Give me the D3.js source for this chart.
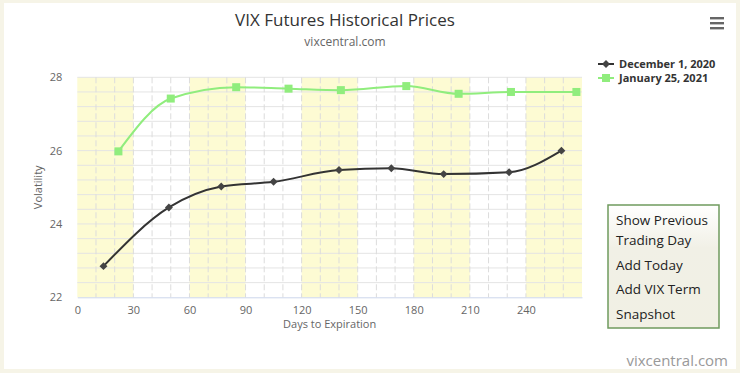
<!DOCTYPE html>
<html>
<head>
<meta charset="utf-8">
<script src="https://cdn.jsdelivr.net/npm/d3@7"></script>
<style>
  body { margin: 0; background: #f6f4e7; font-family: "Open Sans", "DejaVu Sans", sans-serif; }
  .card { position: absolute; left: 4px; top: 3px; width: 732px; height: 366px; background: #fff; }
  svg text { font-family: "Open Sans", "DejaVu Sans", sans-serif; }
</style>
</head>
<body>
<div class="card"></div>
<svg id="chart" width="740" height="373" style="position:absolute;left:0;top:0"></svg>
<script>
// chart data
var seriesNames = ["December 1, 2020", "January 25, 2021"];
var dec1Days = [14, 49, 77, 105, 140, 168, 196, 231, 259];
var dec1Vals = [22.85, 24.45, 25.02, 25.15, 25.47, 25.52, 25.36, 25.41, 26.0];
var jan25Days = [22, 50, 85, 113, 141, 176, 204, 232, 267];
var jan25Vals = [25.98, 27.42, 27.73, 27.69, 27.65, 27.76, 27.55, 27.6, 27.6];
var xTicks = [0, 30, 60, 90, 120, 150, 180, 210, 240];
var yTicks = [22, 24, 26, 28];
var buttonLabels = [["Show Previous", "Trading Day"], ["Add Today"], ["Add VIX Term"], ["Snapshot"]];

var svg = d3.select("#chart");
var margin = { top: 77.3, left: 77.3, right: 158, bottom: 75.7 };
var width = 740 - margin.left - margin.right;
var height = 373 - margin.top - margin.bottom;

var x = d3.scaleLinear().domain([0, 270]).range([0, width]);
var y = d3.scaleLinear().domain([22, 28]).range([height, 0]);

var g = svg.append("g")
  .attr("transform", `translate(${margin.left},${margin.top})`);

// alternating yellow bands every 30 days
var bands = d3.range(0, 270, 60);
g.selectAll("rect.band")
  .data(bands)
  .enter()
  .append("rect")
  .attr("class", "band")
  .attr("x", d => x(d))
  .attr("y", 0)
  .attr("width", d => x(Math.min(d + 30, 270)) - x(d))
  .attr("height", height)
  .attr("fill", "#fdfbd3");

// horizontal grid every 0.4
g.selectAll("line.hgrid")
  .data(d3.range(22.4, 28.01, 0.4))
  .enter()
  .append("line")
  .attr("x1", 0).attr("x2", width)
  .attr("y1", d => y(d)).attr("y2", d => y(d))
  .attr("stroke", "#e4e4e4")
  .attr("stroke-width", 1);

// vertical dashed grid every 10 days
g.selectAll("line.vgrid")
  .data(d3.range(10, 270, 10))
  .enter()
  .append("line")
  .attr("x1", d => x(d)).attr("x2", d => x(d))
  .attr("y1", 0).attr("y2", height)
  .attr("stroke", "#dcdcdc")
  .attr("stroke-dasharray", "6,3")
  .attr("stroke-width", 1);

// bottom axis
var xAxis = g.append("g")
  .attr("transform", `translate(0,${height})`)
  .call(d3.axisBottom(x).tickValues(xTicks).tickSize(0).tickPadding(9));
xAxis.select(".domain").attr("stroke", "#ccd6eb");
xAxis.selectAll("text").attr("fill", "#666").attr("font-size", "11px");

// left axis
var yAxis = g.append("g")
  .call(d3.axisLeft(y).tickValues(yTicks).tickFormat(d3.format("d")).tickSize(0).tickPadding(15));
yAxis.select(".domain").remove();
yAxis.selectAll("text").attr("fill", "#666").attr("font-size", "11px");

// axis titles
g.append("text")
  .attr("x", width / 2)
  .attr("y", height + 31)
  .attr("text-anchor", "middle")
  .attr("fill", "#666")
  .attr("font-size", "11px")
  .text("Days to Expiration");

g.append("text")
  .attr("transform", "rotate(-90)")
  .attr("x", -height / 2)
  .attr("y", -margin.left + 38)
  .attr("dy", "0.35em")
  .attr("text-anchor", "middle")
  .attr("fill", "#666")
  .attr("font-size", "11px")
  .text("Volatility");

var line = d3.line()
  .x(d => x(d[0]))
  .y(d => y(d[1]))
  .curve(d3.curveMonotoneX);

var dec1 = d3.zip(dec1Days, dec1Vals);
var jan25 = d3.zip(jan25Days, jan25Vals);

// green series
g.append("path")
  .datum(jan25)
  .attr("d", line)
  .attr("fill", "none")
  .attr("stroke", "#90ed7d")
  .attr("stroke-width", 2);

g.selectAll("rect.sq")
  .data(jan25)
  .enter()
  .append("rect")
  .attr("x", d => x(d[0]) - 4)
  .attr("y", d => y(d[1]) - 4)
  .attr("width", 8)
  .attr("height", 8)
  .attr("fill", "#90ed7d");

// dark series
g.append("path")
  .datum(dec1)
  .attr("d", line)
  .attr("fill", "none")
  .attr("stroke", "#333")
  .attr("stroke-width", 2);

var diamond = d3.symbol().type(d3.symbolDiamond2).size(40);
g.selectAll("path.dia")
  .data(dec1)
  .enter()
  .append("path")
  .attr("d", diamond)
  .attr("transform", d => `translate(${x(d[0])},${y(d[1])})`)
  .attr("fill", "#444");

// title and subtitle
svg.append("text")
  .attr("x", 345).attr("y", 26)
  .attr("text-anchor", "middle")
  .attr("fill", "#333")
  .attr("font-size", "17px")
  .text("VIX Futures Historical Prices");

svg.append("text")
  .attr("x", 345).attr("y", 46)
  .attr("text-anchor", "middle")
  .attr("fill", "#666")
  .attr("font-size", "12px")
  .text("vixcentral.com");

// menu icon
svg.selectAll("rect.menu")
  .data([0, 1, 2])
  .enter()
  .append("rect")
  .attr("x", 710).attr("y", d => 17 + d * 5)
  .attr("width", 14).attr("height", 2.4)
  .attr("fill", "#666");

// legend
var legend = svg.append("g").attr("transform", "translate(598,64)");
seriesNames.forEach(function(name, i) {
  var row = legend.append("g").attr("transform", `translate(0,${i * 14})`);
  var col = i === 0 ? "#333" : "#90ed7d";
  row.append("line")
    .attr("x1", 0).attr("x2", 16)
    .attr("stroke", col).attr("stroke-width", 2);
  if (i === 0) {
    row.append("path").attr("d", diamond).attr("transform", "translate(8,0)").attr("fill", "#444");
  } else {
    row.append("rect").attr("x", 4).attr("y", -4).attr("width", 8).attr("height", 8).attr("fill", "#90ed7d");
  }
  row.append("text")
    .attr("x", 21).attr("y", 4)
    .attr("font-size", "11px")
    .attr("font-weight", "bold")
    .attr("fill", "#333")
    .text(name);
});

// button panel
var grad = svg.append("defs").append("linearGradient")
  .attr("id", "btnGrad").attr("x1", 0).attr("x2", 0).attr("y1", 0).attr("y2", 1);
grad.append("stop").attr("offset", "0%").attr("stop-color", "#ffffff");
grad.append("stop").attr("offset", "35%").attr("stop-color", "#f1f0e6");
grad.append("stop").attr("offset", "100%").attr("stop-color", "#f1f0e4");

svg.append("rect")
  .attr("x", 608).attr("y", 205)
  .attr("width", 111).attr("height", 123)
  .attr("fill", "url(#btnGrad)")
  .attr("stroke", "#6f9a5e")
  .attr("stroke-width", 1.5);

var lineY = 225;
buttonLabels.forEach(function(lines, i) {
  lines.forEach(function(t, j) {
    svg.append("text")
      .attr("x", 616).attr("y", lineY + j * 20)
      .attr("font-size", "13.5px")
      .attr("fill", "#222")
      .text(t);
  });
  lineY += (lines.length - 1) * 20 + 24.5;
});

// credit
svg.append("text")
  .attr("x", 728).attr("y", 366)
  .attr("text-anchor", "end")
  .attr("fill", "#999")
  .attr("font-size", "15px")
  .text("vixcentral.com");
</script>
</body>
</html>
